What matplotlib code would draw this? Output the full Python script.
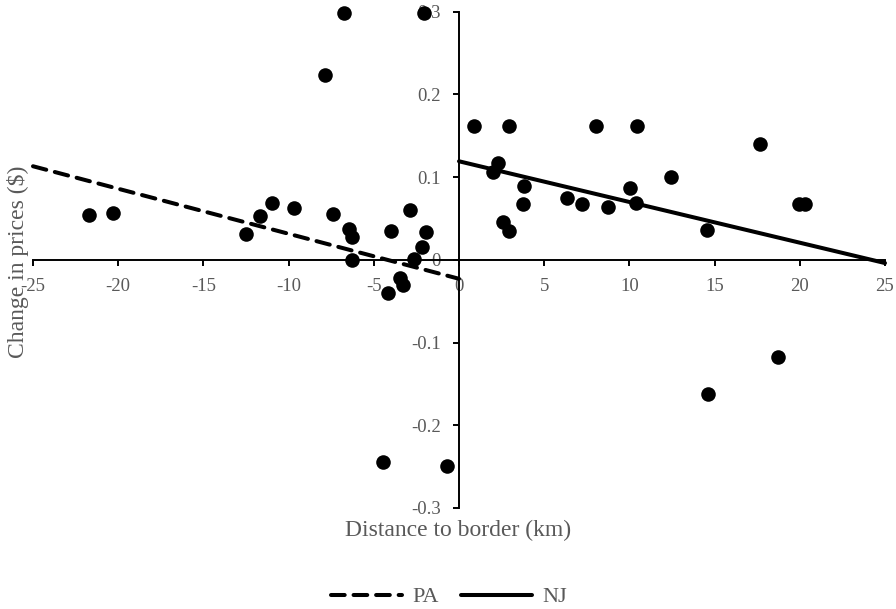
import matplotlib
matplotlib.use('Agg')
import matplotlib.pyplot as plt
from matplotlib.lines import Line2D

# Data
pa_x = [-21.7, -20.3, -12.5, -11.7, -11.0, -9.7, -6.75, -7.84, -2.05, -7.38,
        -6.46, -6.30, -6.30, -4.0, -2.85, -1.91, -2.17, -2.66, -3.44, -3.29,
        -4.18, -4.47, -0.72]
pa_y = [0.054, 0.056, 0.031, 0.053, 0.068, 0.063, 0.298, 0.223, 0.298, 0.055,
        0.037, 0.028, 0.000, 0.035, 0.060, 0.034, 0.016, 0.001, -0.022, -0.030,
        -0.040, -0.244, -0.249]

nj_x = [0.89, 2.91, 2.26, 2.0, 3.84, 3.74, 2.6, 2.91, 6.36, 7.19, 8.03,
        10.43, 10.04, 8.76, 10.4, 12.46, 17.64, 14.57, 19.93, 20.28, 14.6, 18.74]
nj_y = [0.162, 0.162, 0.117, 0.106, 0.089, 0.067, 0.046, 0.035, 0.075, 0.067, 0.162,
        0.162, 0.087, 0.064, 0.068, 0.100, 0.140, 0.036, 0.067, 0.067, -0.162, -0.118]

# Trendlines (start, end) in data units
pa_fit_x = [-25, 0]
pa_fit_y = [0.113, -0.023]
nj_fit_x = [0, 25]
nj_fit_y = [0.119, -0.004]

xticks = [-25, -20, -15, -10, -5, 0, 5, 10, 15, 20, 25]
yticks = [-0.3, -0.2, -0.1, 0, 0.1, 0.2, 0.3]
ytick_labels = ['-0.3', '-0.2', '-0.1', '0', '0.1', '0.2', '0.3']

grey = '#595959'
plt.rcParams['font.family'] = ['Liberation Serif', 'DejaVu Serif']

fig = plt.figure(figsize=(8.96, 6.09), dpi=100)
ax = fig.add_axes([33 / 896, 1 - 508 / 609, (885 - 33) / 896, (508 - 11.5) / 609])
ax.set_xlim(-25, 25)
ax.set_ylim(-0.3, 0.3)

# Axes cross at the origin
ax.spines['left'].set_position(('data', 0))
ax.spines['bottom'].set_position(('data', 0))
ax.spines['top'].set_visible(False)
ax.spines['right'].set_visible(False)
for s in ('left', 'bottom'):
    ax.spines[s].set_linewidth(1.4)
    ax.spines[s].set_color('black')

ax.set_xticks(xticks)
ax.set_xticklabels([str(t) for t in xticks])
ax.set_yticks(yticks)
ax.set_yticklabels(ytick_labels)
ax.tick_params(axis='x', direction='out', length=4, width=1.4, pad=9,
               labelsize=13.5, labelcolor=grey)
ax.tick_params(axis='y', direction='out', length=4, width=1.4, pad=9,
               labelsize=13.5, labelcolor=grey)

# Points
ax.scatter(pa_x + nj_x, pa_y + nj_y, s=110, color='black', zorder=3, clip_on=False,
           linewidths=0)

# Trendlines
lw = 2.9
dash = (3.4, 2.2)
ax.plot(pa_fit_x, pa_fit_y, color='black', lw=lw, dashes=dash,
        dash_capstyle='round', zorder=4, clip_on=False)
ax.plot(nj_fit_x, nj_fit_y, color='black', lw=lw, solid_capstyle='round',
        zorder=4, clip_on=False)

# Axis titles
fig.text(458 / 896, 1 - 530 / 609, 'Distance to border (km)', ha='center',
         va='center', fontsize=17, color=grey)
fig.text(18 / 896, 1 - 262 / 609, 'Change in prices ($)', ha='center',
         va='center', fontsize=17, color=grey, rotation=90)

# Legend
handles = [
    Line2D([], [], color='black', lw=lw, dashes=dash, dash_capstyle='round'),
    Line2D([], [], color='black', lw=lw, solid_capstyle='round'),
]
leg = fig.legend(handles, ['PA', 'NJ'], loc='center', ncol=2,
                 bbox_to_anchor=(449 / 896, 1 - 597 / 609), frameon=False,
                 fontsize=16, handlelength=3.2, handletextpad=0.45,
                 columnspacing=1.0, borderpad=0)
for t in leg.get_texts():
    t.set_color(grey)

fig.savefig('out.png', dpi=100)
plt.close(fig)
